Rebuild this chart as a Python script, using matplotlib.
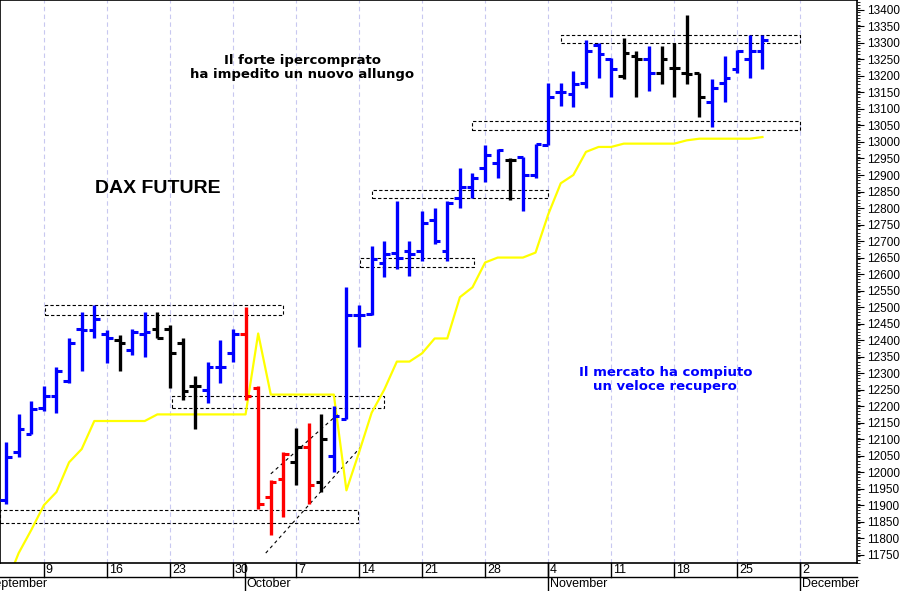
import matplotlib
matplotlib.use("Agg")
import matplotlib.pyplot as plt
import matplotlib.transforms as mtransforms
from matplotlib.patches import Rectangle
import numpy as np

plt.rcParams["font.family"] = ["Liberation Sans", "DejaVu Sans"]

# trading day index 0 = Wed 4 Sep 2019
opens = [11915, 12060, 12115, 12195, 12230, 12275, 12435, 12430, 12420, 12400,
         12370, 12420, 12435, 12435, 12390, 12260, 12250, 12320, 12360, 12420,
         12255, 11925, 11980, 12030, 12075, 11970, 12050, 12160, 12475, 12480,
         12635, 12665, 12670, 12670, 12765, 12670, 12830, 12865, 12920, 12935,
         12945, 12955, 12900, 12990, 13150, 13145, 13180, 13295, 13250, 13200,
         13260, 13250, 13210, 13225, 13210, 13210, 13120, 13180, 13220, 13250,
         13275]
highs = [12090, 12175, 12215, 12260, 12320, 12405, 12485, 12505, 12430, 12415,
         12435, 12485, 12485, 12445, 12405, 12290, 12335, 12400, 12435, 12500,
         12260, 11975, 12060, 12135, 12150, 12175, 12200, 12560, 12505, 12685,
         12700, 12820, 12700, 12790, 12800, 12820, 12920, 12905, 12990, 12980,
         12950, 12955, 12995, 13180, 13180, 13215, 13310, 13300, 13255, 13315,
         13275, 13290, 13290, 13300, 13385, 13210, 13190, 13260, 13280, 13325,
         13325]
lows = [11905, 12045, 12115, 12185, 12180, 12270, 12305, 12405, 12330, 12305,
        12355, 12350, 12405, 12255, 12220, 12130, 12210, 12270, 12335, 12220,
        11890, 11810, 11865, 11960, 11905, 11940, 12000, 12160, 12380, 12475,
        12590, 12615, 12595, 12640, 12690, 12640, 12800, 12830, 12880, 12890,
        12825, 12790, 12890, 12990, 13110, 13105, 13165, 13195, 13135, 13190,
        13135, 13155, 13175, 13135, 13175, 13075, 13045, 13120, 13210, 13195,
        13220]
closes = [12045, 12130, 12190, 12230, 12305, 12390, 12430, 12465, 12405, 12390,
          12425, 12425, 12405, 12360, 12245, 12260, 12320, 12320, 12420, 12230,
          11905, 11970, 12055, 12075, 11960, 12100, 12170, 12475, 12475, 12645,
          12660, 12650, 12660, 12755, 12700, 12815, 12865, 12890, 12960, 12975,
          12945, 12900, 12995, 13135, 13150, 13175, 13275, 13265, 13220, 13270,
          13250, 13210, 13250, 13225, 13205, 13135, 13165, 13195, 13275, 13275,
          13310]
bar_colors = (["blue"] * 9 + ["black"] + ["blue"] * 2 + ["black"] * 4 + ["blue"] * 3
              + ["red"] * 4 + ["black", "red", "black"] + ["blue"] * 14 + ["black"]
              + ["blue"] * 8 + ["black", "black", "blue", "black", "black", "black", "black"]
              + ["blue"] * 4)
trend = [11660, 11755, 11825, 11900, 11940, 12030, 12070, 12155, 12155, 12155,
         12155, 12155, 12175, 12175, 12175, 12175, 12175, 12175, 12175, 12175,
         12420, 12235, 12235, 12235, 12235, 12235, 12235, 11945, 12060, 12180,
         12250, 12335, 12335, 12360, 12405, 12405, 12530, 12560, 12635, 12650,
         12650, 12650, 12665, 12780, 12875, 12900, 12970, 12985, 12985, 12995,
         12995, 12995, 12995, 12995, 13005, 13010, 13010, 13010, 13010, 13010,
         13015]

# dashed boxes: (k_start, k_end, price_low, price_high)
boxes = [(3.1, 22.0, 12475, 12505), (13.2, 30.0, 12195, 12230),
         (-0.5, 27.9, 11845, 11885), (28.1, 37.1, 12620, 12650),
         (29.0, 43.0, 12830, 12855), (37.0, 63.0, 13035, 13065),
         (44.0, 63.0, 13300, 13325)]
channel = [((21.0, 11995), (26.3, 12175)), ((20.6, 11755), (28.1, 12075))]

monday_idx = [3, 8, 13, 18, 23, 28, 33, 38, 43, 48, 53, 58, 63]
monday_lbl = ["9", "16", "23", "30", "7", "14", "21", "28", "4", "11", "18", "25", "2"]
month_idx = [-1.7, 18.95, 43, 63]
month_lbl = ["September", "October", "November", "December"]

fig = plt.figure(figsize=(9.06, 5.91), dpi=100)
ax = fig.add_axes([0, 28 / 591, 857 / 906, 563 / 591])
ax.set_xlim(-0.48, 67.5)
ax.set_ylim(11725, 13430)

for m in monday_idx:
    ax.axvline(m, color="#c8c8f0", lw=0.8, ls=(0, (4, 3)), zorder=0)

for k0, k1, lo, hi in boxes:
    ax.add_patch(Rectangle((k0, lo), k1 - k0, hi - lo, fill=False, ec="black",
                           lw=0.8, ls=(0, (3, 2)), zorder=1))
for (xa, ya), (xb, yb) in channel:
    ax.plot([xa, xb], [ya, yb], color="black", lw=0.8, ls=(0, (3, 3)), zorder=1)

x = np.arange(len(closes))
ax.plot(x, trend, color="#ffff00", lw=1.6, zorder=2)
ax.vlines(x, lows, highs, colors=bar_colors, lw=2.4, zorder=3)
ax.hlines(opens, x - 0.45, x, colors=bar_colors, lw=2.2, zorder=3)
ax.hlines(closes, x, x + 0.45, colors=bar_colors, lw=2.2, zorder=3)

ax.text(23.5, 13225, "Il forte ipercomprato\nha impedito un nuovo allungo", ha="center",
        va="center", fontsize=9.5, fontweight="bold", family="DejaVu Sans", linespacing=1.15)
ax.text(12, 12860, "DAX FUTURE", ha="center", va="center", fontsize=14, fontweight="bold")
ax.text(52.3, 12280, "Il mercato ha compiuto\nun veloce recupero", ha="center",
        va="center", fontsize=9.5, fontweight="bold", color="blue", family="DejaVu Sans",
        linespacing=1.15)

ax.yaxis.tick_right()
ax.set_yticks(np.arange(11750, 13401, 50))
ax.set_yticks(np.arange(11725, 13430, 10), minor=True)
ax.tick_params(axis="y", which="major", length=5, labelsize=8.5, pad=2)
ax.tick_params(axis="y", which="minor", length=2)
ax.set_xticks([])
for s in ax.spines.values():
    s.set_linewidth(1.2)

# date rows under the chart
tr = mtransforms.blended_transform_factory(ax.transData, fig.transFigure)
ax.plot([-0.48, 67.5], [14 / 591, 14 / 591], transform=tr, color="black", lw=1, clip_on=False)
for m, lbl in zip(monday_idx, monday_lbl):
    ax.plot([m, m], [14 / 591, 28 / 591], transform=tr, color="black", lw=1, clip_on=False)
    ax.text(m + 0.15, 21 / 591, lbl, transform=tr, fontsize=9, va="center", ha="left")
for m, lbl in zip(month_idx, month_lbl):
    if m > 0:
        ax.plot([m, m], [0, 28 / 591], transform=tr, color="black", lw=1, clip_on=False)
    ax.text(m + 0.15, 7 / 591, lbl, transform=tr, fontsize=9, va="center", ha="left")

fig.savefig("out.png", dpi=100)
